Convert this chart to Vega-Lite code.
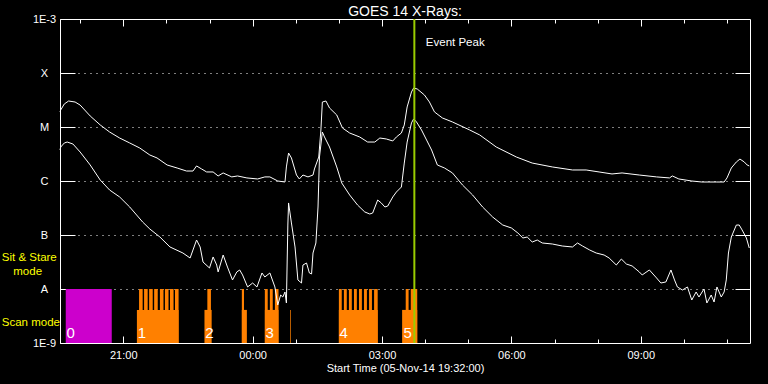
{
  "$schema": "https://vega.github.io/schema/vega-lite/v6.json",
  "width": 690,
  "height": 324,
  "autosize": {"type": "none"},
  "padding": {"left": 60, "top": 19, "right": 18, "bottom": 41},
  "background": "black",
  "title": {"text": "GOES 14 X-Rays:", "color": "white", "font": "Liberation Sans", "fontSize": 14, "fontWeight": "normal", "offset": -6, "frame": "group", "anchor": "middle"},
  "config": {
    "view": {"stroke": "white", "strokeWidth": 1},
    "axis": {"domain": false, "labelColor": "white", "tickColor": "white", "titleColor": "white", "labelFont": "Liberation Sans", "titleFont": "Liberation Sans", "labelFontSize": 11, "titleFontSize": 11, "titleFontWeight": "normal", "gridColor": "white", "gridDash": [1, 5], "gridOpacity": 1, "tickWidth": 1, "zindex": 1}
  },
  "datasets": {
    "xrays": [
      {"band":"1.0-8.0 A","time":"2014-11-05T19:32Z","flux":1.90e-5},
      {"band":"1.0-8.0 A","time":"2014-11-05T19:33Z","flux":2.07e-5},
      {"band":"1.0-8.0 A","time":"2014-11-05T19:38Z","flux":2.67e-5},
      {"band":"1.0-8.0 A","time":"2014-11-05T19:44Z","flux":3.03e-5},
      {"band":"1.0-8.0 A","time":"2014-11-05T19:53Z","flux":2.90e-5},
      {"band":"1.0-8.0 A","time":"2014-11-05T20:00Z","flux":2.55e-5},
      {"band":"1.0-8.0 A","time":"2014-11-05T20:14Z","flux":1.60e-5},
      {"band":"1.0-8.0 A","time":"2014-11-05T20:28Z","flux":1.09e-5},
      {"band":"1.0-8.0 A","time":"2014-11-05T20:41Z","flux":8.08e-6},
      {"band":"1.0-8.0 A","time":"2014-11-05T20:55Z","flux":6.25e-6},
      {"band":"1.0-8.0 A","time":"2014-11-05T21:09Z","flux":5.06e-6},
      {"band":"1.0-8.0 A","time":"2014-11-05T21:23Z","flux":4.08e-6},
      {"band":"1.0-8.0 A","time":"2014-11-05T21:37Z","flux":3.03e-6},
      {"band":"1.0-8.0 A","time":"2014-11-05T21:47Z","flux":2.67e-6},
      {"band":"1.0-8.0 A","time":"2014-11-05T22:01Z","flux":1.98e-6},
      {"band":"1.0-8.0 A","time":"2014-11-05T22:15Z","flux":1.74e-6},
      {"band":"1.0-8.0 A","time":"2014-11-05T22:28Z","flux":1.53e-6},
      {"band":"1.0-8.0 A","time":"2014-11-05T22:37Z","flux":1.53e-6},
      {"band":"1.0-8.0 A","time":"2014-11-05T22:42Z","flux":1.90e-6},
      {"band":"1.0-8.0 A","time":"2014-11-05T22:49Z","flux":1.67e-6},
      {"band":"1.0-8.0 A","time":"2014-11-05T22:56Z","flux":1.47e-6},
      {"band":"1.0-8.0 A","time":"2014-11-05T23:05Z","flux":1.47e-6},
      {"band":"1.0-8.0 A","time":"2014-11-05T23:12Z","flux":1.24e-6},
      {"band":"1.0-8.0 A","time":"2014-11-05T23:19Z","flux":1.41e-6},
      {"band":"1.0-8.0 A","time":"2014-11-05T23:31Z","flux":1.19e-6},
      {"band":"1.0-8.0 A","time":"2014-11-05T23:39Z","flux":1.24e-6},
      {"band":"1.0-8.0 A","time":"2014-11-05T23:52Z","flux":1.14e-6},
      {"band":"1.0-8.0 A","time":"2014-11-06T00:07Z","flux":1.09e-6},
      {"band":"1.0-8.0 A","time":"2014-11-06T00:17Z","flux":1.19e-6},
      {"band":"1.0-8.0 A","time":"2014-11-06T00:24Z","flux":1.19e-6},
      {"band":"1.0-8.0 A","time":"2014-11-06T00:35Z","flux":1.00e-6},
      {"band":"1.0-8.0 A","time":"2014-11-06T00:45Z","flux":9.58e-7},
      {"band":"1.0-8.0 A","time":"2014-11-06T00:47Z","flux":1.82e-6},
      {"band":"1.0-8.0 A","time":"2014-11-06T00:50Z","flux":3.30e-6},
      {"band":"1.0-8.0 A","time":"2014-11-06T00:54Z","flux":2.67e-6},
      {"band":"1.0-8.0 A","time":"2014-11-06T01:01Z","flux":1.29e-6},
      {"band":"1.0-8.0 A","time":"2014-11-06T01:05Z","flux":1.09e-6},
      {"band":"1.0-8.0 A","time":"2014-11-06T01:10Z","flux":1.29e-6},
      {"band":"1.0-8.0 A","time":"2014-11-06T01:17Z","flux":1.19e-6},
      {"band":"1.0-8.0 A","time":"2014-11-06T01:24Z","flux":1.29e-6},
      {"band":"1.0-8.0 A","time":"2014-11-06T01:26Z","flux":1.67e-6},
      {"band":"1.0-8.0 A","time":"2014-11-06T01:32Z","flux":2.78e-6},
      {"band":"1.0-8.0 A","time":"2014-11-06T01:35Z","flux":8.80e-6},
      {"band":"1.0-8.0 A","time":"2014-11-06T01:37Z","flux":2.90e-5},
      {"band":"1.0-8.0 A","time":"2014-11-06T01:42Z","flux":3.03e-5},
      {"band":"1.0-8.0 A","time":"2014-11-06T01:47Z","flux":2.25e-5},
      {"band":"1.0-8.0 A","time":"2014-11-06T01:57Z","flux":1.67e-5},
      {"band":"1.0-8.0 A","time":"2014-11-06T02:05Z","flux":9.58e-6},
      {"band":"1.0-8.0 A","time":"2014-11-06T02:15Z","flux":7.74e-6},
      {"band":"1.0-8.0 A","time":"2014-11-06T02:29Z","flux":6.53e-6},
      {"band":"1.0-8.0 A","time":"2014-11-06T02:40Z","flux":5.27e-6},
      {"band":"1.0-8.0 A","time":"2014-11-06T02:50Z","flux":5.27e-6},
      {"band":"1.0-8.0 A","time":"2014-11-06T02:57Z","flux":6.25e-6},
      {"band":"1.0-8.0 A","time":"2014-11-06T03:06Z","flux":6.00e-6},
      {"band":"1.0-8.0 A","time":"2014-11-06T03:15Z","flux":5.51e-6},
      {"band":"1.0-8.0 A","time":"2014-11-06T03:20Z","flux":6.53e-6},
      {"band":"1.0-8.0 A","time":"2014-11-06T03:27Z","flux":7.74e-6},
      {"band":"1.0-8.0 A","time":"2014-11-06T03:31Z","flux":1.09e-5},
      {"band":"1.0-8.0 A","time":"2014-11-06T03:35Z","flux":2.35e-5},
      {"band":"1.0-8.0 A","time":"2014-11-06T03:41Z","flux":4.45e-5},
      {"band":"1.0-8.0 A","time":"2014-11-06T03:44Z","flux":5.27e-5},
      {"band":"1.0-8.0 A","time":"2014-11-06T03:49Z","flux":5.06e-5},
      {"band":"1.0-8.0 A","time":"2014-11-06T03:59Z","flux":3.92e-5},
      {"band":"1.0-8.0 A","time":"2014-11-06T04:06Z","flux":2.90e-5},
      {"band":"1.0-8.0 A","time":"2014-11-06T04:13Z","flux":1.90e-5},
      {"band":"1.0-8.0 A","time":"2014-11-06T04:24Z","flux":1.47e-5},
      {"band":"1.0-8.0 A","time":"2014-11-06T04:38Z","flux":1.24e-5},
      {"band":"1.0-8.0 A","time":"2014-11-06T05:02Z","flux":8.80e-6},
      {"band":"1.0-8.0 A","time":"2014-11-06T05:16Z","flux":7.11e-6},
      {"band":"1.0-8.0 A","time":"2014-11-06T05:39Z","flux":4.26e-6},
      {"band":"1.0-8.0 A","time":"2014-11-06T06:07Z","flux":2.78e-6},
      {"band":"1.0-8.0 A","time":"2014-11-06T06:29Z","flux":2.15e-6},
      {"band":"1.0-8.0 A","time":"2014-11-06T06:57Z","flux":1.82e-6},
      {"band":"1.0-8.0 A","time":"2014-11-06T07:25Z","flux":1.60e-6},
      {"band":"1.0-8.0 A","time":"2014-11-06T07:44Z","flux":1.60e-6},
      {"band":"1.0-8.0 A","time":"2014-11-06T08:02Z","flux":1.47e-6},
      {"band":"1.0-8.0 A","time":"2014-11-06T08:20Z","flux":1.35e-6},
      {"band":"1.0-8.0 A","time":"2014-11-06T08:34Z","flux":1.41e-6},
      {"band":"1.0-8.0 A","time":"2014-11-06T08:58Z","flux":1.29e-6},
      {"band":"1.0-8.0 A","time":"2014-11-06T09:22Z","flux":1.19e-6},
      {"band":"1.0-8.0 A","time":"2014-11-06T09:40Z","flux":1.14e-6},
      {"band":"1.0-8.0 A","time":"2014-11-06T09:44Z","flux":1.24e-6},
      {"band":"1.0-8.0 A","time":"2014-11-06T09:53Z","flux":1.09e-6},
      {"band":"1.0-8.0 A","time":"2014-11-06T10:11Z","flux":1.00e-6},
      {"band":"1.0-8.0 A","time":"2014-11-06T10:25Z","flux":9.58e-7},
      {"band":"1.0-8.0 A","time":"2014-11-06T10:45Z","flux":9.58e-7},
      {"band":"1.0-8.0 A","time":"2014-11-06T10:56Z","flux":9.58e-7},
      {"band":"1.0-8.0 A","time":"2014-11-06T11:00Z","flux":1.14e-6},
      {"band":"1.0-8.0 A","time":"2014-11-06T11:06Z","flux":1.74e-6},
      {"band":"1.0-8.0 A","time":"2014-11-06T11:13Z","flux":2.25e-6},
      {"band":"1.0-8.0 A","time":"2014-11-06T11:18Z","flux":2.55e-6},
      {"band":"1.0-8.0 A","time":"2014-11-06T11:24Z","flux":2.25e-6},
      {"band":"1.0-8.0 A","time":"2014-11-06T11:28Z","flux":1.98e-6},
      {"band":"1.0-8.0 A","time":"2014-11-06T11:31Z","flux":1.90e-6},
      {"band":"0.5-4.0 A","time":"2014-11-05T19:32Z","flux":3.75e-6},
      {"band":"0.5-4.0 A","time":"2014-11-05T19:33Z","flux":4.26e-6},
      {"band":"0.5-4.0 A","time":"2014-11-05T19:38Z","flux":5.06e-6},
      {"band":"0.5-4.0 A","time":"2014-11-05T19:42Z","flux":5.27e-6},
      {"band":"0.5-4.0 A","time":"2014-11-05T19:50Z","flux":4.84e-6},
      {"band":"0.5-4.0 A","time":"2014-11-05T20:00Z","flux":3.44e-6},
      {"band":"0.5-4.0 A","time":"2014-11-05T20:14Z","flux":1.98e-6},
      {"band":"0.5-4.0 A","time":"2014-11-05T20:28Z","flux":1.04e-6},
      {"band":"0.5-4.0 A","time":"2014-11-05T20:41Z","flux":6.81e-7},
      {"band":"0.5-4.0 A","time":"2014-11-05T20:55Z","flux":5.06e-7},
      {"band":"0.5-4.0 A","time":"2014-11-05T21:09Z","flux":3.30e-7},
      {"band":"0.5-4.0 A","time":"2014-11-05T21:27Z","flux":1.74e-7},
      {"band":"0.5-4.0 A","time":"2014-11-05T21:37Z","flux":1.29e-7},
      {"band":"0.5-4.0 A","time":"2014-11-05T21:51Z","flux":9.18e-8},
      {"band":"0.5-4.0 A","time":"2014-11-05T22:05Z","flux":6.00e-8},
      {"band":"0.5-4.0 A","time":"2014-11-05T22:23Z","flux":4.64e-8},
      {"band":"0.5-4.0 A","time":"2014-11-05T22:33Z","flux":3.75e-8},
      {"band":"0.5-4.0 A","time":"2014-11-05T22:42Z","flux":8.08e-8},
      {"band":"0.5-4.0 A","time":"2014-11-05T22:47Z","flux":6.00e-8},
      {"band":"0.5-4.0 A","time":"2014-11-05T22:51Z","flux":3.16e-8},
      {"band":"0.5-4.0 A","time":"2014-11-05T23:00Z","flux":2.45e-8},
      {"band":"0.5-4.0 A","time":"2014-11-05T23:05Z","flux":3.92e-8},
      {"band":"0.5-4.0 A","time":"2014-11-05T23:10Z","flux":2.78e-8},
      {"band":"0.5-4.0 A","time":"2014-11-05T23:12Z","flux":2.07e-8},
      {"band":"0.5-4.0 A","time":"2014-11-05T23:19Z","flux":4.26e-8},
      {"band":"0.5-4.0 A","time":"2014-11-05T23:25Z","flux":2.55e-8},
      {"band":"0.5-4.0 A","time":"2014-11-05T23:32Z","flux":1.47e-8},
      {"band":"0.5-4.0 A","time":"2014-11-05T23:38Z","flux":2.07e-8},
      {"band":"0.5-4.0 A","time":"2014-11-05T23:42Z","flux":2.25e-8},
      {"band":"0.5-4.0 A","time":"2014-11-05T23:46Z","flux":1.82e-8},
      {"band":"0.5-4.0 A","time":"2014-11-05T23:53Z","flux":1.09e-8},
      {"band":"0.5-4.0 A","time":"2014-11-06T00:00Z","flux":1.29e-8},
      {"band":"0.5-4.0 A","time":"2014-11-06T00:06Z","flux":1.09e-8},
      {"band":"0.5-4.0 A","time":"2014-11-06T00:13Z","flux":1.98e-8},
      {"band":"0.5-4.0 A","time":"2014-11-06T00:17Z","flux":1.67e-8},
      {"band":"0.5-4.0 A","time":"2014-11-06T00:24Z","flux":1.98e-8},
      {"band":"0.5-4.0 A","time":"2014-11-06T00:31Z","flux":1.09e-8},
      {"band":"0.5-4.0 A","time":"2014-11-06T00:35Z","flux":5.06e-9},
      {"band":"0.5-4.0 A","time":"2014-11-06T00:39Z","flux":7.74e-9},
      {"band":"0.5-4.0 A","time":"2014-11-06T00:42Z","flux":7.11e-9},
      {"band":"0.5-4.0 A","time":"2014-11-06T00:45Z","flux":8.80e-9},
      {"band":"0.5-4.0 A","time":"2014-11-06T00:47Z","flux":5.51e-9},
      {"band":"0.5-4.0 A","time":"2014-11-06T00:49Z","flux":1.53e-7},
      {"band":"0.5-4.0 A","time":"2014-11-06T00:50Z","flux":3.92e-7},
      {"band":"0.5-4.0 A","time":"2014-11-06T00:54Z","flux":1.67e-7},
      {"band":"0.5-4.0 A","time":"2014-11-06T00:59Z","flux":6.00e-8},
      {"band":"0.5-4.0 A","time":"2014-11-06T01:03Z","flux":1.47e-8},
      {"band":"0.5-4.0 A","time":"2014-11-06T01:08Z","flux":1.29e-8},
      {"band":"0.5-4.0 A","time":"2014-11-06T01:10Z","flux":2.78e-8},
      {"band":"0.5-4.0 A","time":"2014-11-06T01:15Z","flux":3.03e-8},
      {"band":"0.5-4.0 A","time":"2014-11-06T01:19Z","flux":1.98e-8},
      {"band":"0.5-4.0 A","time":"2014-11-06T01:22Z","flux":1.90e-8},
      {"band":"0.5-4.0 A","time":"2014-11-06T01:24Z","flux":4.64e-8},
      {"band":"0.5-4.0 A","time":"2014-11-06T01:28Z","flux":7.11e-8},
      {"band":"0.5-4.0 A","time":"2014-11-06T01:31Z","flux":3.30e-7},
      {"band":"0.5-4.0 A","time":"2014-11-06T01:33Z","flux":2.78e-6},
      {"band":"0.5-4.0 A","time":"2014-11-06T01:37Z","flux":8.08e-6},
      {"band":"0.5-4.0 A","time":"2014-11-06T01:40Z","flux":6.53e-6},
      {"band":"0.5-4.0 A","time":"2014-11-06T01:47Z","flux":4.26e-6},
      {"band":"0.5-4.0 A","time":"2014-11-06T01:57Z","flux":1.82e-6},
      {"band":"0.5-4.0 A","time":"2014-11-06T02:04Z","flux":9.18e-7},
      {"band":"0.5-4.0 A","time":"2014-11-06T02:15Z","flux":5.51e-7},
      {"band":"0.5-4.0 A","time":"2014-11-06T02:26Z","flux":3.59e-7},
      {"band":"0.5-4.0 A","time":"2014-11-06T02:36Z","flux":2.67e-7},
      {"band":"0.5-4.0 A","time":"2014-11-06T02:43Z","flux":2.45e-7},
      {"band":"0.5-4.0 A","time":"2014-11-06T02:47Z","flux":2.55e-7},
      {"band":"0.5-4.0 A","time":"2014-11-06T02:54Z","flux":4.45e-7},
      {"band":"0.5-4.0 A","time":"2014-11-06T02:59Z","flux":3.92e-7},
      {"band":"0.5-4.0 A","time":"2014-11-06T03:04Z","flux":3.30e-7},
      {"band":"0.5-4.0 A","time":"2014-11-06T03:08Z","flux":3.44e-7},
      {"band":"0.5-4.0 A","time":"2014-11-06T03:15Z","flux":5.06e-7},
      {"band":"0.5-4.0 A","time":"2014-11-06T03:20Z","flux":6.25e-7},
      {"band":"0.5-4.0 A","time":"2014-11-06T03:27Z","flux":7.74e-7},
      {"band":"0.5-4.0 A","time":"2014-11-06T03:31Z","flux":2.15e-6},
      {"band":"0.5-4.0 A","time":"2014-11-06T03:35Z","flux":5.27e-6},
      {"band":"0.5-4.0 A","time":"2014-11-06T03:41Z","flux":1.19e-5},
      {"band":"0.5-4.0 A","time":"2014-11-06T03:44Z","flux":1.41e-5},
      {"band":"0.5-4.0 A","time":"2014-11-06T03:48Z","flux":1.24e-5},
      {"band":"0.5-4.0 A","time":"2014-11-06T03:55Z","flux":8.80e-6},
      {"band":"0.5-4.0 A","time":"2014-11-06T04:02Z","flux":5.74e-6},
      {"band":"0.5-4.0 A","time":"2014-11-06T04:09Z","flux":3.75e-6},
      {"band":"0.5-4.0 A","time":"2014-11-06T04:17Z","flux":1.98e-6},
      {"band":"0.5-4.0 A","time":"2014-11-06T04:27Z","flux":1.74e-6},
      {"band":"0.5-4.0 A","time":"2014-11-06T04:38Z","flux":1.41e-6},
      {"band":"0.5-4.0 A","time":"2014-11-06T04:52Z","flux":8.43e-7},
      {"band":"0.5-4.0 A","time":"2014-11-06T05:06Z","flux":5.51e-7},
      {"band":"0.5-4.0 A","time":"2014-11-06T05:20Z","flux":3.30e-7},
      {"band":"0.5-4.0 A","time":"2014-11-06T05:34Z","flux":2.15e-7},
      {"band":"0.5-4.0 A","time":"2014-11-06T05:48Z","flux":1.53e-7},
      {"band":"0.5-4.0 A","time":"2014-11-06T06:00Z","flux":1.35e-7},
      {"band":"0.5-4.0 A","time":"2014-11-06T06:09Z","flux":1.09e-7},
      {"band":"0.5-4.0 A","time":"2014-11-06T06:16Z","flux":8.80e-8},
      {"band":"0.5-4.0 A","time":"2014-11-06T06:22Z","flux":9.18e-8},
      {"band":"0.5-4.0 A","time":"2014-11-06T06:29Z","flux":7.41e-8},
      {"band":"0.5-4.0 A","time":"2014-11-06T06:36Z","flux":8.08e-8},
      {"band":"0.5-4.0 A","time":"2014-11-06T06:43Z","flux":7.11e-8},
      {"band":"0.5-4.0 A","time":"2014-11-06T06:57Z","flux":6.81e-8},
      {"band":"0.5-4.0 A","time":"2014-11-06T07:11Z","flux":6.25e-8},
      {"band":"0.5-4.0 A","time":"2014-11-06T07:25Z","flux":6.00e-8},
      {"band":"0.5-4.0 A","time":"2014-11-06T07:32Z","flux":7.11e-8},
      {"band":"0.5-4.0 A","time":"2014-11-06T07:39Z","flux":6.25e-8},
      {"band":"0.5-4.0 A","time":"2014-11-06T07:49Z","flux":5.27e-8},
      {"band":"0.5-4.0 A","time":"2014-11-06T07:58Z","flux":4.64e-8},
      {"band":"0.5-4.0 A","time":"2014-11-06T08:09Z","flux":4.26e-8},
      {"band":"0.5-4.0 A","time":"2014-11-06T08:16Z","flux":3.75e-8},
      {"band":"0.5-4.0 A","time":"2014-11-06T08:26Z","flux":2.78e-8},
      {"band":"0.5-4.0 A","time":"2014-11-06T08:33Z","flux":3.59e-8},
      {"band":"0.5-4.0 A","time":"2014-11-06T08:40Z","flux":2.90e-8},
      {"band":"0.5-4.0 A","time":"2014-11-06T08:48Z","flux":2.67e-8},
      {"band":"0.5-4.0 A","time":"2014-11-06T08:58Z","flux":2.07e-8},
      {"band":"0.5-4.0 A","time":"2014-11-06T09:02Z","flux":1.82e-8},
      {"band":"0.5-4.0 A","time":"2014-11-06T09:12Z","flux":2.25e-8},
      {"band":"0.5-4.0 A","time":"2014-11-06T09:22Z","flux":1.60e-8},
      {"band":"0.5-4.0 A","time":"2014-11-06T09:28Z","flux":1.29e-8},
      {"band":"0.5-4.0 A","time":"2014-11-06T09:35Z","flux":1.35e-8},
      {"band":"0.5-4.0 A","time":"2014-11-06T09:42Z","flux":2.25e-8},
      {"band":"0.5-4.0 A","time":"2014-11-06T09:47Z","flux":1.47e-8},
      {"band":"0.5-4.0 A","time":"2014-11-06T09:51Z","flux":1.09e-8},
      {"band":"0.5-4.0 A","time":"2014-11-06T09:58Z","flux":9.58e-9},
      {"band":"0.5-4.0 A","time":"2014-11-06T10:05Z","flux":1.09e-8},
      {"band":"0.5-4.0 A","time":"2014-11-06T10:11Z","flux":6.25e-9},
      {"band":"0.5-4.0 A","time":"2014-11-06T10:17Z","flux":8.80e-9},
      {"band":"0.5-4.0 A","time":"2014-11-06T10:21Z","flux":7.11e-9},
      {"band":"0.5-4.0 A","time":"2014-11-06T10:28Z","flux":1.00e-8},
      {"band":"0.5-4.0 A","time":"2014-11-06T10:32Z","flux":5.51e-9},
      {"band":"0.5-4.0 A","time":"2014-11-06T10:38Z","flux":7.74e-9},
      {"band":"0.5-4.0 A","time":"2014-11-06T10:42Z","flux":5.74e-9},
      {"band":"0.5-4.0 A","time":"2014-11-06T10:46Z","flux":1.09e-8},
      {"band":"0.5-4.0 A","time":"2014-11-06T10:52Z","flux":7.11e-9},
      {"band":"0.5-4.0 A","time":"2014-11-06T10:56Z","flux":8.80e-9},
      {"band":"0.5-4.0 A","time":"2014-11-06T10:59Z","flux":1.47e-8},
      {"band":"0.5-4.0 A","time":"2014-11-06T11:02Z","flux":4.64e-8},
      {"band":"0.5-4.0 A","time":"2014-11-06T11:06Z","flux":9.18e-8},
      {"band":"0.5-4.0 A","time":"2014-11-06T11:13Z","flux":1.53e-7},
      {"band":"0.5-4.0 A","time":"2014-11-06T11:17Z","flux":1.53e-7},
      {"band":"0.5-4.0 A","time":"2014-11-06T11:21Z","flux":1.24e-7},
      {"band":"0.5-4.0 A","time":"2014-11-06T11:27Z","flux":8.80e-8},
      {"band":"0.5-4.0 A","time":"2014-11-06T11:31Z","flux":5.74e-8}
    ],
    "modes": [
      {"group":"0","start":"2014-11-05T19:40Z","end":"2014-11-05T20:44Z","top":1e-8},
      {"group":"1","start":"2014-11-05T21:19Z","end":"2014-11-05T22:17Z","top":4.1e-9},
      {"group":"1","start":"2014-11-05T21:22Z","end":"2014-11-05T21:27Z","top":1e-8},
      {"group":"1","start":"2014-11-05T21:29Z","end":"2014-11-05T21:34Z","top":1e-8},
      {"group":"1","start":"2014-11-05T21:36Z","end":"2014-11-05T21:41Z","top":1e-8},
      {"group":"1","start":"2014-11-05T21:43Z","end":"2014-11-05T21:48Z","top":1e-8},
      {"group":"1","start":"2014-11-05T21:51Z","end":"2014-11-05T21:56Z","top":1e-8},
      {"group":"1","start":"2014-11-05T21:58Z","end":"2014-11-05T22:03Z","top":1e-8},
      {"group":"1","start":"2014-11-05T22:05Z","end":"2014-11-05T22:10Z","top":1e-8},
      {"group":"1","start":"2014-11-05T22:12Z","end":"2014-11-05T22:17Z","top":1e-8},
      {"group":"2","start":"2014-11-05T22:53Z","end":"2014-11-05T23:03Z","top":4.1e-9},
      {"group":"2","start":"2014-11-05T22:57Z","end":"2014-11-05T23:02Z","top":1e-8},
      {"group":"2","start":"2014-11-05T23:45Z","end":"2014-11-05T23:52Z","top":4.1e-9},
      {"group":"2","start":"2014-11-05T23:45Z","end":"2014-11-05T23:48Z","top":1e-8},
      {"group":"3","start":"2014-11-06T00:17Z","end":"2014-11-06T00:36Z","top":4.1e-9},
      {"group":"3","start":"2014-11-06T00:17Z","end":"2014-11-06T00:21Z","top":1e-8},
      {"group":"3","start":"2014-11-06T00:24Z","end":"2014-11-06T00:28Z","top":1e-8},
      {"group":"3","start":"2014-11-06T00:31Z","end":"2014-11-06T00:36Z","top":1e-8},
      {"group":"3","start":"2014-11-06T00:52Z","end":"2014-11-06T00:53Z","top":4.1e-9},
      {"group":"4","start":"2014-11-06T02:00Z","end":"2014-11-06T02:54Z","top":4.1e-9},
      {"group":"4","start":"2014-11-06T02:00Z","end":"2014-11-06T02:04Z","top":1e-8},
      {"group":"4","start":"2014-11-06T02:07Z","end":"2014-11-06T02:11Z","top":1e-8},
      {"group":"4","start":"2014-11-06T02:14Z","end":"2014-11-06T02:18Z","top":1e-8},
      {"group":"4","start":"2014-11-06T02:21Z","end":"2014-11-06T02:25Z","top":1e-8},
      {"group":"4","start":"2014-11-06T02:28Z","end":"2014-11-06T02:32Z","top":1e-8},
      {"group":"4","start":"2014-11-06T02:35Z","end":"2014-11-06T02:39Z","top":1e-8},
      {"group":"4","start":"2014-11-06T02:42Z","end":"2014-11-06T02:46Z","top":1e-8},
      {"group":"4","start":"2014-11-06T02:49Z","end":"2014-11-06T02:54Z","top":1e-8},
      {"group":"5","start":"2014-11-06T03:28Z","end":"2014-11-06T03:49Z","top":4.1e-9},
      {"group":"5","start":"2014-11-06T03:33Z","end":"2014-11-06T03:37Z","top":1e-8},
      {"group":"5","start":"2014-11-06T03:40Z","end":"2014-11-06T03:49Z","top":1e-8}
    ],
    "groupLabels": [
      {"group":"0","time":"2014-11-05T19:41Z","flux":1.24e-9},
      {"group":"1","time":"2014-11-05T21:20Z","flux":1.24e-9},
      {"group":"2","time":"2014-11-05T22:54Z","flux":1.24e-9},
      {"group":"3","time":"2014-11-06T00:18Z","flux":1.24e-9},
      {"group":"4","time":"2014-11-06T02:01Z","flux":1.24e-9},
      {"group":"5","time":"2014-11-06T03:30Z","flux":1.24e-9}
    ],
    "modeNames": [
      {"text":"Sit & Stare","time":"2014-11-05T18:11Z","flux":3.75e-8},
      {"text":"mode","time":"2014-11-05T18:27Z","flux":2.07e-8},
      {"text":"Scan mode","time":"2014-11-05T18:11Z","flux":2.35e-9}
    ]
  },
  "resolve": {"axis": {"x": "independent", "y": "independent"}},
  "layer": [
    {
      "data": {"name": "modes"},
      "mark": {"type": "rect"},
      "encoding": {
        "x": {"field": "start", "type": "temporal",
              "scale": {"type": "utc", "domain": [{"year":2014,"month":11,"date":5,"hours":19,"minutes":32,"utc":true},{"year":2014,"month":11,"date":6,"hours":11,"minutes":32,"utc":true}]},
              "axis": {"orient": "bottom", "title": null, "labels": false, "grid": false, "tickSize": -4,
                       "values": [{"year":2014,"month":11,"date":5,"hours":20,"utc":true},{"year":2014,"month":11,"date":5,"hours":21,"utc":true},{"year":2014,"month":11,"date":5,"hours":22,"utc":true},{"year":2014,"month":11,"date":5,"hours":23,"utc":true},{"year":2014,"month":11,"date":6,"hours":0,"utc":true},{"year":2014,"month":11,"date":6,"hours":1,"utc":true},{"year":2014,"month":11,"date":6,"hours":2,"utc":true},{"year":2014,"month":11,"date":6,"hours":3,"utc":true},{"year":2014,"month":11,"date":6,"hours":4,"utc":true},{"year":2014,"month":11,"date":6,"hours":5,"utc":true},{"year":2014,"month":11,"date":6,"hours":6,"utc":true},{"year":2014,"month":11,"date":6,"hours":7,"utc":true},{"year":2014,"month":11,"date":6,"hours":8,"utc":true},{"year":2014,"month":11,"date":6,"hours":9,"utc":true},{"year":2014,"month":11,"date":6,"hours":10,"utc":true},{"year":2014,"month":11,"date":6,"hours":11,"utc":true}]}},
        "x2": {"field": "end"},
        "y": {"field": "top", "type": "quantitative",
              "scale": {"type": "log", "domain": [1e-9, 1e-3], "nice": false},
              "axis": {"orient": "left", "title": null, "grid": true, "tickSize": -15, "labelPadding": 31, "labelAlign": "center", "labelBaseline": "middle",
                       "values": [1e-9, 1e-8, 1e-7, 1e-6, 1e-5, 1e-4, 1e-3],
                       "labelExpr": "round(log(datum.value)/LN10) == -9 ? '1E-9' : round(log(datum.value)/LN10) == -8 ? 'A' : round(log(datum.value)/LN10) == -7 ? 'B' : round(log(datum.value)/LN10) == -6 ? 'C' : round(log(datum.value)/LN10) == -5 ? 'M' : round(log(datum.value)/LN10) == -4 ? 'X' : '1E-3'"}},
        "y2": {"datum": 1e-9},
        "color": {"field": "group", "type": "nominal", "legend": null,
                  "scale": {"domain": ["0","1","2","3","4","5"], "range": ["#cc00cc","#ff8000","#ff8000","#ff8000","#ff8000","#ff8000"]}}
      }
    },
    {
      "data": {"name": "xrays"},
      "mark": {"type": "line", "color": "white", "strokeWidth": 1},
      "encoding": {
        "x": {"field": "time", "type": "temporal",
              "scale": {"type": "utc", "domain": [{"year":2014,"month":11,"date":5,"hours":19,"minutes":32,"utc":true},{"year":2014,"month":11,"date":6,"hours":11,"minutes":32,"utc":true}]},
              "axis": {"orient": "bottom", "title": "Start Time (05-Nov-14 19:32:00)", "titlePadding": 2, "grid": false, "tickSize": -7, "labelPadding": 13, "format": "%H:%M",
                       "values": [{"year":2014,"month":11,"date":5,"hours":21,"utc":true},{"year":2014,"month":11,"date":6,"hours":0,"utc":true},{"year":2014,"month":11,"date":6,"hours":3,"utc":true},{"year":2014,"month":11,"date":6,"hours":6,"utc":true},{"year":2014,"month":11,"date":6,"hours":9,"utc":true}]}},
        "y": {"field": "flux", "type": "quantitative",
              "scale": {"type": "log", "domain": [1e-9, 1e-3], "nice": false},
              "axis": {"orient": "right", "title": null, "grid": false, "labels": false, "tickSize": -15, "values": [1e-8, 1e-7, 1e-6, 1e-5, 1e-4]}},
        "detail": {"field": "band", "type": "nominal"}
      }
    },
    {
      "data": {"values": [{"event": "Event Peak", "time": "2014-11-06T03:45Z"}]},
      "mark": {"type": "rule", "color": "#99cc00", "strokeWidth": 2},
      "encoding": {
        "x": {"field": "time", "type": "temporal",
              "scale": {"type": "utc", "domain": [{"year":2014,"month":11,"date":5,"hours":19,"minutes":32,"utc":true},{"year":2014,"month":11,"date":6,"hours":11,"minutes":32,"utc":true}]},
              "axis": {"orient": "top", "title": null, "labels": false, "grid": false, "tickSize": -4,
                       "values": [{"year":2014,"month":11,"date":5,"hours":20,"utc":true},{"year":2014,"month":11,"date":5,"hours":21,"utc":true},{"year":2014,"month":11,"date":5,"hours":22,"utc":true},{"year":2014,"month":11,"date":5,"hours":23,"utc":true},{"year":2014,"month":11,"date":6,"hours":0,"utc":true},{"year":2014,"month":11,"date":6,"hours":1,"utc":true},{"year":2014,"month":11,"date":6,"hours":2,"utc":true},{"year":2014,"month":11,"date":6,"hours":3,"utc":true},{"year":2014,"month":11,"date":6,"hours":4,"utc":true},{"year":2014,"month":11,"date":6,"hours":5,"utc":true},{"year":2014,"month":11,"date":6,"hours":6,"utc":true},{"year":2014,"month":11,"date":6,"hours":7,"utc":true},{"year":2014,"month":11,"date":6,"hours":8,"utc":true},{"year":2014,"month":11,"date":6,"hours":9,"utc":true},{"year":2014,"month":11,"date":6,"hours":10,"utc":true},{"year":2014,"month":11,"date":6,"hours":11,"utc":true}]}}
      }
    },
    {
      "data": {"values": [{"text": "Event Peak", "time": "2014-11-06T04:01Z", "flux": 3.6e-4}]},
      "mark": {"type": "text", "color": "white", "font": "Liberation Sans", "fontSize": 11.5, "align": "left", "baseline": "middle"},
      "encoding": {
        "x": {"field": "time", "type": "temporal",
              "scale": {"type": "utc", "domain": [{"year":2014,"month":11,"date":5,"hours":19,"minutes":32,"utc":true},{"year":2014,"month":11,"date":6,"hours":11,"minutes":32,"utc":true}]},
              "axis": {"orient": "top", "title": null, "labels": false, "grid": false, "tickSize": -7,
                       "values": [{"year":2014,"month":11,"date":5,"hours":21,"utc":true},{"year":2014,"month":11,"date":6,"hours":0,"utc":true},{"year":2014,"month":11,"date":6,"hours":3,"utc":true},{"year":2014,"month":11,"date":6,"hours":6,"utc":true},{"year":2014,"month":11,"date":6,"hours":9,"utc":true}]}},
        "y": {"field": "flux", "type": "quantitative", "scale": {"type": "log", "domain": [1e-9, 1e-3], "nice": false}, "axis": null},
        "text": {"field": "text"}
      }
    },
    {
      "data": {"name": "groupLabels"},
      "mark": {"type": "text", "color": "white", "font": "Liberation Sans", "fontSize": 15, "align": "left", "baseline": "alphabetic"},
      "encoding": {
        "x": {"field": "time", "type": "temporal", "scale": {"type": "utc", "domain": [{"year":2014,"month":11,"date":5,"hours":19,"minutes":32,"utc":true},{"year":2014,"month":11,"date":6,"hours":11,"minutes":32,"utc":true}]}, "axis": null},
        "y": {"field": "flux", "type": "quantitative", "scale": {"type": "log", "domain": [1e-9, 1e-3], "nice": false}, "axis": null},
        "text": {"field": "group"}
      }
    },
    {
      "data": {"name": "modeNames"},
      "mark": {"type": "text", "color": "#ffff00", "font": "Liberation Sans", "fontSize": 11.5, "align": "left", "baseline": "middle"},
      "encoding": {
        "x": {"field": "time", "type": "temporal", "scale": {"type": "utc", "domain": [{"year":2014,"month":11,"date":5,"hours":19,"minutes":32,"utc":true},{"year":2014,"month":11,"date":6,"hours":11,"minutes":32,"utc":true}]}, "axis": null},
        "y": {"field": "flux", "type": "quantitative", "scale": {"type": "log", "domain": [1e-9, 1e-3], "nice": false}, "axis": null},
        "text": {"field": "text"}
      }
    }
  ]
}
